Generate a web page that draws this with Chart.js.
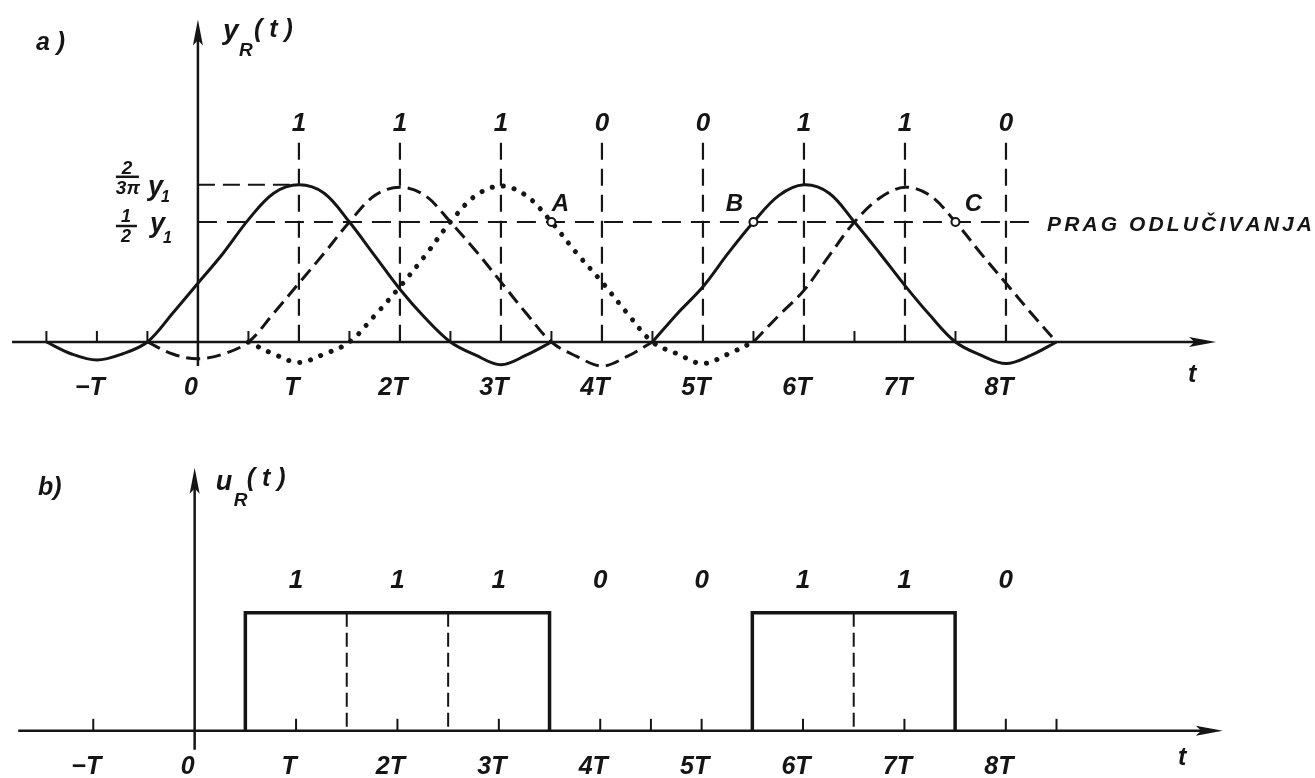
<!DOCTYPE html>
<html>
<head>
<meta charset="utf-8">
<script src="https://cdn.jsdelivr.net/npm/chart.js@4.4.1/dist/chart.umd.min.js"></script>
<style>
  body { margin: 0; background: #fff; }
  #wrap { position: relative; width: 1315px; height: 778px; }
  canvas { position: absolute; left: 0; }
  #ca { top: 0; }
  #cb { top: 420px; }
</style>
</head>
<body>
<div id="wrap">
  <canvas id="ca" width="1315" height="420"></canvas>
  <canvas id="cb" width="1315" height="358"></canvas>
</div>
<script>
// time axis in units of T, amplitude in units of y1
const tickValues = [-1, 0, 1, 2, 3, 4, 5, 6, 7, 8];
const bits = ['1', '1', '1', '0', '0', '1', '1', '0'];
const sampleTimes = [1, 2, 3, 4, 5, 6, 7, 8];
const sampleLineTop = 0.83;

// received pulses (every T/4)
const solid1T = [-1.5, -1.25, -1, -0.75, -0.5, -0.25, 0, 0.25, 0.5, 0.75, 1, 1.25, 1.5, 1.75, 2, 2.25, 2.5, 2.75, 3, 3.25, 3.5];
const solid1Y = [0, -0.05, -0.075, -0.05, 0, 0.12, 0.245, 0.37, 0.51, 0.62, 0.655, 0.62, 0.5, 0.36, 0.22, 0.1, 0, -0.055, -0.095, -0.055, 0];
const dashed1T = [-0.5, -0.25, 0, 0.25, 0.5, 0.75, 1, 1.25, 1.5, 1.75, 2, 2.25, 2.5, 2.75, 3, 3.25, 3.5, 3.75, 4, 4.25, 4.5];
const dashed1Y = [0, -0.05, -0.07, -0.05, 0, 0.12, 0.245, 0.37, 0.5, 0.61, 0.645, 0.61, 0.5, 0.38, 0.25, 0.12, 0, -0.06, -0.1, -0.06, 0];
const dottedT = [0.5, 0.75, 1, 1.25, 1.5, 1.75, 2, 2.25, 2.5, 2.75, 3, 3.25, 3.5, 3.75, 4, 4.25, 4.5, 4.75, 5, 5.25, 5.5];
const dottedY = [0, -0.05, -0.085, -0.05, 0, 0.11, 0.23, 0.36, 0.5, 0.61, 0.65, 0.61, 0.5, 0.37, 0.25, 0.12, 0, -0.05, -0.09, -0.05, 0];
const solid2T = [4.5, 4.75, 5, 5.25, 5.5, 5.75, 6, 6.25, 6.5, 6.75, 7, 7.25, 7.5, 7.75, 8, 8.25, 8.5];
const solid2Y = [0, 0.12, 0.23, 0.37, 0.5, 0.61, 0.655, 0.62, 0.5, 0.37, 0.235, 0.11, 0, -0.055, -0.09, -0.055, 0];
const dashed2T = [5.5, 5.75, 6, 6.25, 6.5, 6.75, 7, 7.25, 7.5, 7.75, 8, 8.25, 8.5];
const dashed2Y = [0, 0.11, 0.215, 0.36, 0.5, 0.6, 0.645, 0.61, 0.5, 0.37, 0.245, 0.12, 0];

const peakLevel = 0.655;
const threshold = 0.5;
const thresholdEnd = 8.25;
const decisionT = [3.5, 5.5, 7.5];
const decisionNames = ['A', 'B', 'C'];
const tickMarksA = [-1.5, -1, -0.5, 0.5, 1.5, 2.5, 3.5, 4.5, 5.5, 6.5, 7.5];

// regenerated signal
const pulsesB = [[0.5, 3.5], [5.5, 7.5]];
const bitEdgesB = [1.5, 2.5, 6.5];
const tickMarksB = [-1, 1, 2, 3, 4, 4.5, 5, 6, 7, 8, 8.5];

const INK = '#151515';
const FONT = '"Liberation Sans", Arial, sans-serif';
const LBL = 'italic bold';

const pts = (ts, ys) => ts.map((t, i) => ({ x: t, y: ys[i] }));

function tLabel(v) {
    if (v === 0) return '0';
    if (v === 1) return 'T';
    if (v === -1) return '\u2212T';
    return v + 'T';
}

function arrow(ctx, x1, y1, x2, y2, len, half) {
    const a = Math.atan2(y2 - y1, x2 - x1);
    const c = Math.cos(a), s = Math.sin(a);
    ctx.beginPath();
    ctx.moveTo(x1, y1);
    ctx.lineTo(x2 - len * 0.7 * c, y2 - len * 0.7 * s);
    ctx.stroke();
    ctx.beginPath();
    ctx.moveTo(x2, y2);
    ctx.lineTo(x2 - len * c + half * s, y2 - len * s - half * c);
    ctx.lineTo(x2 - len * 0.8 * c, y2 - len * 0.8 * s);
    ctx.lineTo(x2 - len * c - half * s, y2 - len * s + half * c);
    ctx.closePath();
    ctx.fill();
}

function axesPlugin(cfg) {
    return {
        id: 'axes',
        beforeDatasetsDraw(chart) {
            const { ctx, scales: { x, y } } = chart;
            const x0 = x.getPixelForValue(0), y0 = y.getPixelForValue(0);
            ctx.save();
            ctx.strokeStyle = INK;
            ctx.fillStyle = INK;
            ctx.lineWidth = 2.5;
            arrow(ctx, x.getPixelForValue(cfg.xFrom), y0, x.getPixelForValue(cfg.xTo), y0, 27, 5);
            arrow(ctx, x0, y.getPixelForValue(cfg.yFrom), x0, y.getPixelForValue(cfg.yTo), 26, 5);
            ctx.lineWidth = 2;
            cfg.ticks.forEach(t => {
                const p = x.getPixelForValue(t);
                ctx.beginPath();
                ctx.moveTo(p, y0);
                ctx.lineTo(p, y0 - cfg.tickLen);
                ctx.stroke();
            });
            ctx.restore();
        }
    };
}

function text(ctx, s, x, y, size, align, style) {
    ctx.font = (style || LBL) + ' ' + size + 'px ' + FONT;
    ctx.textAlign = align || 'left';
    ctx.textBaseline = 'alphabetic';
    ctx.fillText(s, x, y);
}

function spaced(ctx, s, x, y, size, width) {
    ctx.font = LBL + ' ' + size + 'px ' + FONT;
    ctx.textAlign = 'left';
    const chars = [...s];
    const natural = chars.reduce((a, c) => a + ctx.measureText(c).width, 0);
    const gap = (width - natural) / (chars.length - 1);
    let cx = x;
    chars.forEach(c => { ctx.fillText(c, cx, y); cx += ctx.measureText(c).width + gap; });
}

const curve = { borderWidth: 3, tension: 0.35 };

function baseOptions(yMin, yMax, pad, labelPad) {
    return {
        responsive: false,
        animation: false,
        devicePixelRatio: 1,
        layout: { padding: pad },
        plugins: { legend: { display: false }, tooltip: { enabled: false } },
        elements: { point: { radius: 0 }, line: { borderColor: INK, fill: false } },
        scales: {
            x: {
                type: 'linear', min: -1.9, max: 11, position: { y: 0 },
                grid: { display: false, drawTicks: false },
                border: { display: false },
                afterBuildTicks: s => { s.ticks = tickValues.map(v => ({ value: v })); },
                ticks: {
                    autoSkip: false, maxRotation: 0, padding: labelPad, labelOffset: -7,
                    color: INK, font: { family: FONT, size: 25, style: 'italic', weight: 'bold' },
                    callback: v => tLabel(v)
                }
            },
            y: { type: 'linear', min: yMin, max: yMax, display: false }
        }
    };
}

// ---------- a) ----------
const notesA = {
    id: 'notesA',
    afterDraw(chart) {
        const { ctx, scales: { x, y } } = chart;
        const x0 = x.getPixelForValue(0);
        const yPeak = y.getPixelForValue(peakLevel), yThr = y.getPixelForValue(threshold);
        ctx.save();
        ctx.fillStyle = INK;
        ctx.strokeStyle = INK;
        text(ctx, 'a )', 36, 50, 25);
        text(ctx, 'y', x0 + 25, 39, 28);
        text(ctx, 'R', x0 + 41, 56, 19);
        text(ctx, '( t )', x0 + 56, 37, 25);
        const top = y.getPixelForValue(sampleLineTop);
        sampleTimes.forEach((t, i) => text(ctx, bits[i], x.getPixelForValue(t), top - 12, 26, 'center'));
        // level labels
        ctx.lineWidth = 2.5;
        ctx.beginPath(); ctx.moveTo(x0 - 82, yPeak - 8); ctx.lineTo(x0 - 59, yPeak - 8); ctx.stroke();
        text(ctx, '2', x0 - 71, yPeak - 11, 19, 'center');
        text(ctx, '3\u03c0', x0 - 70, yPeak + 9, 19, 'center');
        text(ctx, 'y', x0 - 50, yPeak + 10, 27);
        text(ctx, '1', x0 - 37, yPeak + 17, 16);
        ctx.beginPath(); ctx.moveTo(x0 - 82, yThr + 4); ctx.lineTo(x0 - 61, yThr + 4); ctx.stroke();
        text(ctx, '1', x0 - 72, yThr, 18, 'center');
        text(ctx, '2', x0 - 72, yThr + 20, 18, 'center');
        text(ctx, 'y', x0 - 48, yThr + 10, 27);
        text(ctx, '1', x0 - 35, yThr + 21, 16);
        // decision points
        const dx = [9, -19, 18];
        decisionT.forEach((t, i) => text(ctx, decisionNames[i], x.getPixelForValue(t) + dx[i], yThr - 11, 24, 'center'));
        spaced(ctx, 'PRAG ODLU\u010cIVANJA', 1047, yThr + 9, 21, 265);
        text(ctx, 't', 1188, 382, 25);
        ctx.restore();
    }
};

new Chart(document.getElementById('ca'), {
    type: 'line',
    data: {
        datasets: [
            {
                label: 'decision', data: decisionT.map(t => ({ x: t, y: threshold })),
                showLine: false, pointRadius: 4, pointBorderWidth: 2,
                pointBackgroundColor: '#fff', pointBorderColor: INK
            },
            { label: 'bit T', data: pts(solid1T, solid1Y), ...curve },
            { label: 'bit 2T', data: pts(dashed1T, dashed1Y), ...curve, borderDash: [14, 7] },
            {
                label: 'bit 3T', data: pts(dottedT, dottedY), ...curve, borderWidth: 5, borderDash: [0.1, 11],
                borderCapStyle: 'round'
            },
            { label: 'bit 6T', data: pts(solid2T, solid2Y), ...curve },
            { label: 'bit 7T', data: pts(dashed2T, dashed2Y), ...curve, borderDash: [14, 7] },
            {
                label: 'samples', borderWidth: 2.2, borderDash: [17, 9], spanGaps: false, tension: 0,
                data: sampleTimes.flatMap(t => [{ x: t, y: sampleLineTop }, { x: t, y: 0 }, { x: t, y: null }])
            },
            {
                label: 'peak', borderWidth: 2, borderDash: [17, 8], tension: 0,
                data: [{ x: 0, y: peakLevel }, { x: 1, y: peakLevel }]
            },
            {
                label: 'prag', borderWidth: 2, borderDash: [19, 10], tension: 0,
                data: [{ x: 0, y: threshold }, { x: thresholdEnd, y: threshold }]
            }
        ]
    },
    options: baseOptions(-0.3, 1.4, { left: 2, right: 5, top: 1, bottom: 4 }, 31),
    plugins: [axesPlugin({ xFrom: -1.84, xTo: 10.08, yFrom: -0.1, yTo: 1.344, ticks: tickMarksA, tickLen: 11 }), notesA]
});

// ---------- b) ----------
const notesB = {
    id: 'notesB',
    afterDraw(chart) {
        const { ctx, scales: { x, y } } = chart;
        const x0 = x.getPixelForValue(0);
        const top = y.getPixelForValue(1);
        ctx.save();
        ctx.fillStyle = INK;
        text(ctx, 'b)', 38, 75, 25);
        text(ctx, 'u', x0 + 21, 70, 27);
        text(ctx, 'R', x0 + 39, 86, 19);
        text(ctx, '( t )', x0 + 52, 66, 25);
        sampleTimes.forEach((t, i) => text(ctx, bits[i], x.getPixelForValue(t), top - 25, 26, 'center'));
        text(ctx, 't', 1178, 345, 25);
        ctx.restore();
    }
};

new Chart(document.getElementById('cb'), {
    type: 'line',
    data: {
        datasets: [
            {
                label: 'u_R', borderWidth: 3.5, tension: 0, spanGaps: false, borderJoinStyle: 'miter',
                data: pulsesB.flatMap(([s, e]) => [{ x: s, y: 0 }, { x: s, y: 1 }, { x: e, y: 1 }, { x: e, y: 0 }, { x: e, y: null }])
            },
            {
                label: 'edges', borderWidth: 2, borderDash: [14, 6], tension: 0, spanGaps: false,
                data: bitEdgesB.flatMap(t => [{ x: t, y: 1 }, { x: t, y: 0 }, { x: t, y: null }])
            }
        ]
    },
    options: baseOptions(-0.4, 2.6, { left: 2, right: 5, top: 4, bottom: 0 }, 21),
    plugins: [axesPlugin({ xFrom: -1.74, xTo: 10.14, yFrom: -0.16, yTo: 2.23, ticks: tickMarksB, tickLen: 12 }), notesB]
});
</script>
</body>
</html>
